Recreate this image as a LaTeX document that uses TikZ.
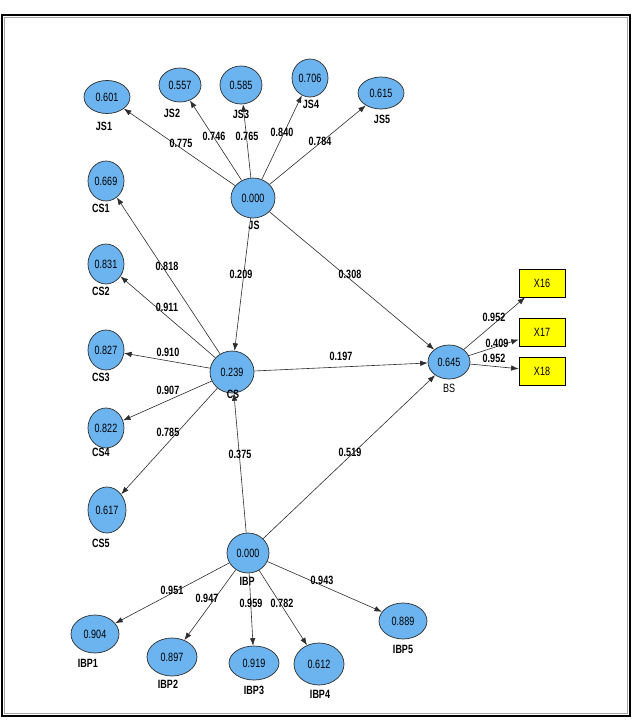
\documentclass[tikz,border=0pt]{standalone}
\usepackage{fontspec}
\newfontfamily\nar{Liberation Sans}[FakeStretch=0.75]
\usetikzlibrary{arrows.meta,shapes.geometric}
\definecolor{lvc}{RGB}{108,180,240}
\definecolor{lnc}{RGB}{45,45,45}
\definecolor{ybc}{RGB}{255,255,0}
\begin{document}
\begin{tikzpicture}[x=1pt,y=-1pt,
  lv/.style 2 args={ellipse, draw=lnc, line width=0.7pt, fill=lvc, inner sep=0pt,
     minimum width=#1pt, minimum height=#2pt, font=\nar\fontsize{12}{12}\selectfont},
  ind/.style={rectangle, draw=black, line width=0.7pt, fill=ybc, minimum width=46pt,
     minimum height=28pt, inner sep=0pt, font=\nar\fontsize{12}{12}\selectfont},
  nm/.style={font=\nar\bfseries\fontsize{12}{12}\selectfont, inner sep=0pt},
  nmr/.style={font=\nar\fontsize{12}{12}\selectfont, inner sep=0pt},
  el/.style={font=\nar\bfseries\fontsize{12}{12}\selectfont, inner sep=0pt},
  ar/.style={draw=lnc, line width=0.6pt, -{Latex[length=7.5pt,width=5.5pt]}}
]
\useasboundingbox (0,0) rectangle (634,721);
\fill[white] (0,0) rectangle (634,721);
\draw[line width=2.5pt, black] (2,15) rectangle (630,716);
\draw[line width=0.5pt, gray!70] (4.5,17.5) rectangle (627.5,713.5);

% latent variables
\node[lv={44}{40}] (js) at (253,198) {0.000};
\node[lv={44}{42}] (cs) at (232,372) {0.239};
\node[lv={42}{34}] (bs) at (449,362) {0.645};
\node[lv={42}{40}] (ibp) at (248,553) {0.000};

% JS indicators
\node[lv={46}{33}] (js1) at (107,97) {0.601};
\node[lv={42}{34}] (js2) at (180,85) {0.557};
\node[lv={42}{38}] (js3) at (241,85) {0.585};
\node[lv={36}{38}] (js4) at (310,78) {0.706};
\node[lv={46}{32}] (js5) at (381,93) {0.615};

% CS indicators
\node[lv={36}{40}] (cs1) at (106,181) {0.669};
\node[lv={36}{40}] (cs2) at (106,264) {0.831};
\node[lv={36}{40}] (cs3) at (106,350) {0.827};
\node[lv={36}{40}] (cs4) at (106,428) {0.822};
\node[lv={38}{46}] (cs5) at (107,510) {0.617};

% IBP indicators
\node[lv={48}{38}] (ibp1) at (95,634) {0.904};
\node[lv={50}{38}] (ibp2) at (172,657) {0.897};
\node[lv={50}{34}] (ibp3) at (254,663) {0.919};
\node[lv={50}{42}] (ibp4) at (319,664) {0.612};
\node[lv={48}{36}] (ibp5) at (403,621) {0.889};

% BS indicators
\node[ind] (x16) at (542,283) {X16};
\node[ind] (x17) at (542,332) {X17};
\node[ind] (x18) at (542,371) {X18};

% names
\node[nm] (njs1) at (104,126) {JS1};
\node[nm] (njs2) at (172,113) {JS2};
\node[nm] (njs3) at (241,114) {JS3};
\node[nm] (njs4) at (311,104) {JS4};
\node[nm] (njs5) at (382,119) {JS5};
\node[nm] (njs) at (254,225) {JS};
\node[nm] (ncs1) at (101,208) {CS1};
\node[nm] (ncs2) at (101,291) {CS2};
\node[nm] (ncs3) at (101,377) {CS3};
\node[nm] (ncs4) at (101,452) {CS4};
\node[nm] (ncs5) at (101,543) {CS5};
\node[nm] (ncs) at (233,394) {CS};
\node[nmr] (nbs) at (449,388) {BS};
\node[nm] (nibp) at (247,581) {IBP};
\node[nm] (nibp1) at (88,663) {IBP1};
\node[nm] (nibp2) at (168,684) {IBP2};
\node[nm] (nibp3) at (254,690) {IBP3};
\node[nm] (nibp4) at (320,694) {IBP4};
\node[nm] (nibp5) at (403,649) {IBP5};

% arrows
\foreach \t in {js1,js2,js3,js4,js5} \draw[ar] (js) -- (\t);
\foreach \t in {cs1,cs2,cs3,cs4,cs5} \draw[ar] (cs) -- (\t);
\foreach \t in {ibp1,ibp2,ibp3,ibp4,ibp5} \draw[ar] (ibp) -- (\t);
\foreach \t in {x16,x17,x18} \draw[ar] (bs) -- (\t);
\draw[ar] (js) -- (cs);
\draw[ar] (js) -- (bs);
\draw[ar] (cs) -- (bs);
\draw[ar] (ibp) -- (cs);
\draw[ar] (ibp) -- (bs);

% edge labels
\node[el] (e1) at (181,143) {0.775};
\node[el] (e2) at (214,136) {0.746};
\node[el] (e3) at (247,136) {0.765};
\node[el] (e4) at (282,132) {0.840};
\node[el] (e5) at (320,141) {0.784};
\node[el] (e6) at (167,266) {0.818};
\node[el] (e7) at (167,307) {0.911};
\node[el] (e8) at (168,352) {0.910};
\node[el] (e9) at (168,390) {0.907};
\node[el] (e10) at (168,432) {0.785};
\node[el] (e11) at (241,274) {0.209};
\node[el] (e12) at (350,274) {0.308};
\node[el] (e13) at (341,356) {0.197};
\node[el] (e14) at (240,454) {0.375};
\node[el] (e15) at (350,452) {0.519};
\node[el] (e16) at (172,590) {0.951};
\node[el] (e17) at (207,598) {0.947};
\node[el] (e18) at (251,603) {0.959};
\node[el] (e19) at (282,603) {0.782};
\node[el] (e20) at (322,580) {0.943};
\node[el] (e21) at (494,317) {0.952};
\node[el] (e22) at (497,343) {0.409};
\node[el] (e23) at (494,358) {0.952};
\end{tikzpicture}
\end{document}
